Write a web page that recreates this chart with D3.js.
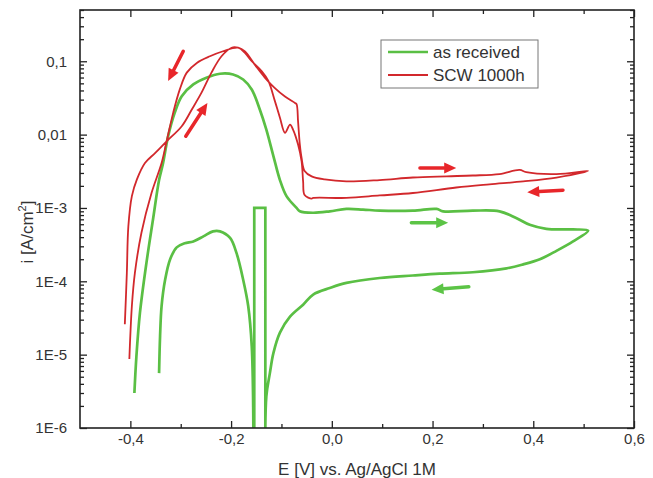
<!DOCTYPE html>
<html>
<head>
<meta charset="utf-8">
<script src="https://cdn.jsdelivr.net/npm/d3@7"></script>
<style>
  body { margin: 0; background: #fff; }
  svg { font-family: "Liberation Sans", Arial, sans-serif; }
</style>
</head>
<body>
<svg id="chart" width="653" height="478"></svg>
<script>
// as received: anodic sweep, reverse sweep, artefact spike (corners repeated so they stay sharp), cathodic tail
const asReceivedE = [-0.392, -0.388, -0.381, -0.368, -0.355, -0.343, -0.335, -0.325, -0.312, -0.298,
  -0.275, -0.249, -0.222, -0.196, -0.176, -0.159, -0.143, -0.130, -0.116, -0.103,
  -0.090, -0.070, -0.0635, -0.037, -0.004, 0.029, 0.062, 0.095, 0.161, 0.208,
  0.221, 0.280, 0.333, 0.366, 0.393, 0.426, 0.479, 0.509,
  0.479, 0.446, 0.413, 0.380, 0.347, 0.280, 0.214, 0.161, 0.095, 0.029,
  -0.004, -0.037, -0.057, -0.083, -0.103, -0.116, -0.123, -0.130, -0.132, -0.132,
  -0.132, -0.132, -0.154, -0.154, -0.154, -0.154, -0.156, -0.156,
  -0.156, -0.159, -0.166, -0.176, -0.189, -0.202, -0.222, -0.236, -0.255, -0.275,
  -0.292, -0.308, -0.321, -0.331, -0.338, -0.341, -0.343];
const asReceivedI = [3.0e-6, 9.5e-6, 3.7e-5, 1.8e-4, 7.0e-4, 2.4e-3, 4.1e-3, 9.5e-3, 0.0198, 0.0334,
  0.0483, 0.0596, 0.0676, 0.0661, 0.0565, 0.0412, 0.022, 0.0117, 5.1e-3, 2.4e-3,
  1.45e-3, 1.0e-3, 9.0e-4, 8.6e-4, 9.0e-4, 9.7e-4, 9.5e-4, 9.2e-4, 9.2e-4, 9.7e-4,
  9.0e-4, 9.2e-4, 9.0e-4, 7.3e-4, 5.9e-4, 5.2e-4, 5.1e-4, 4.9e-4,
  3.5e-4, 2.6e-4, 2.0e-4, 1.7e-4, 1.5e-4, 1.33e-4, 1.27e-4, 1.2e-4, 1.11e-4, 9.5e-5,
  8.1e-5, 6.6e-5, 4.8e-5, 3.3e-5, 2.0e-5, 1.05e-5, 5.6e-6, 2.7e-6, 3e-7, 3e-7,
  1.0e-3, 1.0e-3, 1.0e-3, 1.0e-3, 3e-7, 3e-7, 3e-7, 3e-7,
  1.6e-6, 1.3e-5, 4.6e-5, 1.05e-4, 2.4e-4, 3.9e-4, 4.8e-4, 4.8e-4, 4.1e-4, 3.5e-4,
  3.3e-4, 2.9e-4, 2.0e-4, 1.05e-4, 4.6e-5, 1.8e-5, 5.6e-6];

// SCW 1000h
const scwE = [-0.411, -0.407, -0.404, -0.397, -0.387, -0.371, -0.351, -0.328, -0.298, -0.278,
  -0.259, -0.239, -0.219, -0.199, -0.186,
  -0.173, -0.153, -0.133, -0.113, -0.093, -0.073, -0.070, -0.067, -0.0635, -0.060,
  -0.054, -0.040, -0.014, 0.029, 0.095, 0.161, 0.228, 0.280, 0.333, 0.373,
  0.386, 0.446, 0.509,
  0.446, 0.380, 0.313, 0.247, 0.161, 0.095, 0.029, -0.037, -0.040, -0.054,
  -0.057, -0.060, -0.067, -0.077, -0.083, -0.093, -0.103, -0.113, -0.126, -0.139,
  -0.159, -0.173, -0.186,
  -0.216, -0.242, -0.268, -0.288, -0.302, -0.315, -0.328, -0.338, -0.358, -0.378,
  -0.391, -0.397, -0.402];
const scwI = [2.6e-5, 1.3e-4, 5.6e-4, 1.45e-3, 2.45e-3, 4.1e-3, 5.6e-3, 8.1e-3, 0.013, 0.022,
  0.037, 0.070, 0.117, 0.153, 0.153,
  0.137, 0.090, 0.060, 0.043, 0.033, 0.027, 0.026, 0.015, 7.3e-3, 4.8e-3,
  3.2e-3, 2.7e-3, 2.45e-3, 2.3e-3, 2.4e-3, 2.6e-3, 2.7e-3, 2.77e-3, 2.9e-3, 3.3e-3,
  3.07e-3, 2.9e-3, 3.2e-3,
  2.6e-3, 2.3e-3, 2.1e-3, 1.9e-3, 1.6e-3, 1.48e-3, 1.37e-3, 1.37e-3, 1.34e-3, 1.5e-3,
  2.3e-3, 4.3e-3, 7.3e-3, 0.0117, 0.0137, 0.0106, 0.017, 0.0286, 0.054, 0.073,
  0.100, 0.131, 0.153,
  0.137, 0.117, 0.095, 0.070, 0.041, 0.0198, 8.1e-3, 4.1e-3, 1.6e-3, 4.6e-4,
  1.3e-4, 4.6e-5, 8.7e-6];

// scan direction arrows: tail -> tip
const arrowColor = ["red", "red", "red", "red", "green", "green"];
const arrowFromE = [-0.295, -0.290, 0.175, 0.459, 0.158, 0.272];
const arrowFromI = [0.137, 9.5e-3, 3.5e-3, 1.75e-3, 6.3e-4, 8.4e-5];
const arrowToE = [-0.325, -0.247, 0.247, 0.388, 0.231, 0.198];
const arrowToI = [0.054, 0.027, 3.5e-3, 1.64e-3, 6.3e-4, 7.7e-5];

const xMajor = [-0.4, -0.2, 0.0, 0.2, 0.4, 0.6];
const xMajorLabels = ["-0,4", "-0,2", "0,0", "0,2", "0,4", "0,6"];
const xMinor = [-0.3, -0.1, 0.1, 0.3, 0.5];
const yMajor = [1e-6, 1e-5, 1e-4, 1e-3, 1e-2, 1e-1];
const yMajorLabels = ["1E-6", "1E-5", "1E-4", "1E-3", "0,01", "0,1"];

const legendNames = ["as received", "SCW 1000h"];
const lineColors = { green: "#5abf44", red: "#d2282c" };
const arrowFill = { green: "#5cc446", red: "#e8262a" };

const box = { left: 80, right: 634, top: 10, bottom: 428 };
const svg = d3.select("#chart");

const x = d3.scaleLinear().domain([-0.5, 0.6]).range([box.left, box.right]);
const y = d3.scaleLog().domain([1e-6, 0.5]).range([box.bottom, box.top]);

svg.append("defs").append("clipPath").attr("id", "plot")
  .append("rect").attr("x", box.left).attr("y", box.top)
  .attr("width", box.right - box.left).attr("height", box.bottom - box.top);

const textColor = "#333";
const axisColor = "#222";

// axes, ticks pointing inward
const yMinor = y.ticks().filter(v => !yMajor.some(m => Math.abs(m - v) / m < 1e-6));

function styleAxis(g) {
  g.select(".domain").remove();
  g.selectAll(".tick line").attr("stroke", axisColor).attr("stroke-width", 1.3);
  g.selectAll("text").attr("fill", textColor).attr("font-size", 15);
}

svg.append("g").attr("transform", `translate(0,${box.bottom})`)
  .call(d3.axisBottom(x).tickValues(xMajor).tickSize(-7).tickPadding(5)
    .tickFormat((d, i) => xMajorLabels[i]))
  .call(styleAxis);
svg.append("g").attr("transform", `translate(0,${box.bottom})`)
  .call(d3.axisBottom(x).tickValues(xMinor).tickSize(-4).tickFormat(""))
  .call(styleAxis);
svg.append("g").attr("transform", `translate(0,${box.top})`)
  .call(d3.axisTop(x).tickValues(xMajor).tickSize(-7).tickFormat(""))
  .call(styleAxis);
svg.append("g").attr("transform", `translate(0,${box.top})`)
  .call(d3.axisTop(x).tickValues(xMinor).tickSize(-4).tickFormat(""))
  .call(styleAxis);

svg.append("g").attr("transform", `translate(${box.left},0)`)
  .call(d3.axisLeft(y).tickValues(yMajor).tickSize(-7).tickPadding(13)
    .tickFormat((d, i) => yMajorLabels[i]))
  .call(styleAxis);
svg.append("g").attr("transform", `translate(${box.left},0)`)
  .call(d3.axisLeft(y).tickValues(yMinor).tickSize(-4).tickFormat(""))
  .call(styleAxis);
svg.append("g").attr("transform", `translate(${box.right},0)`)
  .call(d3.axisRight(y).tickValues(yMajor).tickSize(-7).tickFormat(""))
  .call(styleAxis);
svg.append("g").attr("transform", `translate(${box.right},0)`)
  .call(d3.axisRight(y).tickValues(yMinor).tickSize(-4).tickFormat(""))
  .call(styleAxis);

// curves
const line = d3.line()
  .x(d => x(d[0]))
  .y(d => y(d[1]))
  .curve(d3.curveCatmullRom.alpha(0.5));

const plot = svg.append("g").attr("clip-path", "url(#plot)");

plot.append("path")
  .datum(asReceivedE.map((e, i) => [e, asReceivedI[i]]))
  .attr("fill", "none")
  .attr("stroke", lineColors.green)
  .attr("stroke-width", 2.7)
  .attr("stroke-linejoin", "miter")
  .attr("d", line);

plot.append("path")
  .datum(scwE.map((e, i) => [e, scwI[i]]))
  .attr("fill", "none")
  .attr("stroke", lineColors.red)
  .attr("stroke-width", 1.8)
  .attr("stroke-linejoin", "round")
  .attr("d", line);

// arrows
arrowFromE.forEach((e, i) => {
  const x0 = x(e), y0 = y(arrowFromI[i]);
  const x1 = x(arrowToE[i]), y1 = y(arrowToI[i]);
  const ang = Math.atan2(y1 - y0, x1 - x0);
  const headLen = 12, headW = 5.5;
  const bx = x1 - headLen * Math.cos(ang), by = y1 - headLen * Math.sin(ang);
  const c = arrowFill[arrowColor[i]];
  plot.append("line")
    .attr("x1", x0).attr("y1", y0).attr("x2", bx).attr("y2", by)
    .attr("stroke", c).attr("stroke-width", 3.5).attr("stroke-linecap", "round");
  const px = -Math.sin(ang) * headW, py = Math.cos(ang) * headW;
  plot.append("path")
    .attr("d", `M${x1},${y1}L${bx + px},${by + py}L${bx - px},${by - py}Z`)
    .attr("fill", c);
});

// frame
svg.append("rect")
  .attr("x", box.left).attr("y", box.top)
  .attr("width", box.right - box.left).attr("height", box.bottom - box.top)
  .attr("fill", "none").attr("stroke", axisColor).attr("stroke-width", 1.6);

// axis titles
svg.append("text")
  .attr("x", 357).attr("y", 475)
  .attr("text-anchor", "middle")
  .attr("font-size", 17).attr("fill", textColor)
  .text("E [V] vs. Ag/AgCl 1M");

const yTitle = svg.append("text")
  .attr("transform", "translate(33,232) rotate(-90)")
  .attr("text-anchor", "middle")
  .attr("font-size", 17).attr("fill", textColor);
yTitle.append("tspan").text("i [A/cm");
yTitle.append("tspan").attr("font-size", 11).attr("dy", -7).text("2");
yTitle.append("tspan").attr("dy", 7).text("]");

// legend
const legend = svg.append("g");
legend.append("rect")
  .attr("x", 381).attr("y", 40).attr("width", 157).attr("height", 48)
  .attr("fill", "#fff").attr("stroke", "#777").attr("stroke-width", 1);
legendNames.forEach((name, i) => {
  const ly = 52 + i * 23;
  legend.append("line")
    .attr("x1", 388).attr("x2", 428).attr("y1", ly).attr("y2", ly)
    .attr("stroke", i === 0 ? lineColors.green : lineColors.red)
    .attr("stroke-width", i === 0 ? 2.7 : 1.8);
  legend.append("text")
    .attr("x", 433).attr("y", ly + 6)
    .attr("font-size", 17).attr("fill", textColor)
    .text(name);
});
</script>
</body>
</html>
